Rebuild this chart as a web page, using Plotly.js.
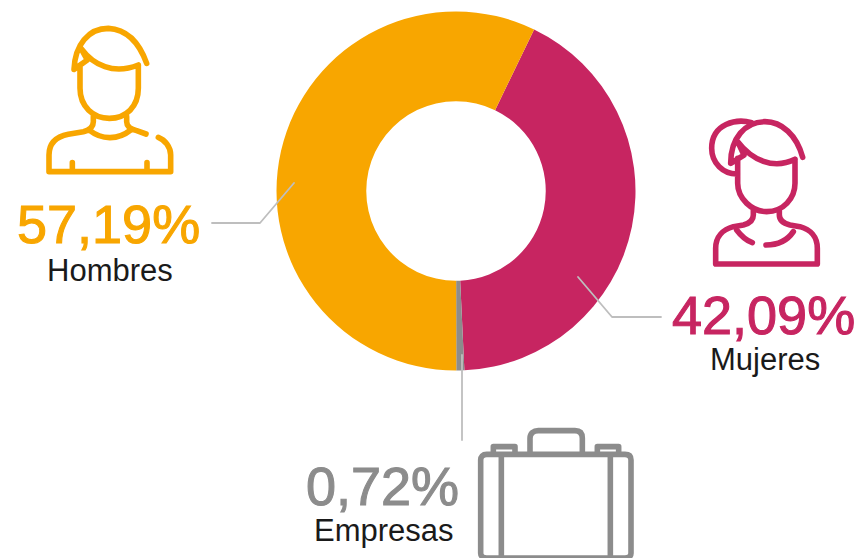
<!DOCTYPE html>
<html><head><meta charset="utf-8">
<script src="https://cdn.plot.ly/plotly-3.0.1.min.js"></script>
<style>html,body{margin:0;padding:0;background:#fff}#c{width:859px;height:558px}
.shapelayer path{stroke-linecap:round;stroke-linejoin:round}
</style>
</head><body><div id="c"></div>
<script>
const categories = ['Mujeres','Empresas','Hombres'];
const shares = [42.09,0.72,57.19];
const shareLabels = ['42,09%','0,72%','57,19%'];
const colours = ['#C72561','#8C8C8C','#F8A600'];

const W=859,H=558;
const cx=456,cy=191,R=179.5;

// Icon outlines, in 3x-crop units with a pixel offset
const manPath = [
 'M440,160 C415,90 375,58 325,55 C265,55 225,105 222,178 L262,150 L243,115',
 'M243,115 C280,165 340,195 415,165',
 'M240,170 L240,235 C240,290 280,325 328,325 C378,325 415,290 415,235 L415,165',
 'M280,320 L280,335 C280,350 270,360 250,365 L205,373 C170,380 147,400 147,435 L147,485 L512,485 L512,435 C512,410 495,390 475,382',
 'M380,320 L380,335 C380,350 395,358 410,362 L438,372',
 'M270,362 C305,390 355,390 392,360',
 'M217,458 L217,485','M441,458 L441,485'
].join(' ');
const womanPath = [
 'M545,68 C500,55 425,70 425,145 C425,190 460,222 500,222',
 'M698,172 C680,105 635,65 585,65 C525,65 482,115 482,190 L522,165 L503,125',
 'M503,125 C545,180 610,210 675,178',
 'M503,175 L503,250 C503,295 545,335 590,335 C640,335 675,295 675,250 L675,178',
 'M550,330 L550,345 C550,360 540,370 520,375 L490,380 C460,388 437,410 437,445 L437,492 L742,492 L742,445 C742,410 720,388 690,380 L660,375 C640,370 628,360 628,345 L628,330',
 'M500,390 C515,410 530,422 547,428','M588,435 C620,435 650,425 670,395'
].join(' ');
const casePath = [
 'M590,343 L1005,343 C1018,343 1023,350 1023,360 L1023,640 C1023,650 1015,654 1005,654 L590,654 C578,654 572,648 572,640 L572,360 C572,350 578,343 590,343',
 'M634,343 L634,654','M961,343 L961,654',
 'M720,343 L720,295 C720,280 730,272 745,272 L855,272 C870,272 877,280 877,295 L877,343',
 'M610,343 L610,320 L675,320 L675,343','M922,343 L922,320 L986,320 L986,343'
].join(' ');

function toPaper(path,ox,oy){
  return path.replace(/(-?[\d.]+),(-?[\d.]+)/g,(m,a,b)=>
    ((ox+a/3)/W).toFixed(5)+','+(1-(oy+b/3)/H).toFixed(5));
}
const icon=(p,ox,oy,col)=>({type:'path',xref:'paper',yref:'paper',path:toPaper(p,ox,oy),
  line:{color:col,width:5.6},layer:'above'});
const leader=(p)=>({type:'path',xref:'paper',yref:'paper',path:toPaper(p,0,0),
  line:{color:'#BEBEBE',width:1.8},layer:'above'});

const shapes=[
 icon(manPath,0,10,colours[2]),
 icon(womanPath,570,100,colours[0]),
 icon(casePath,290,340,colours[1]),
 leader('M636,669 L780,669 L882,549'),
 leader('M1983,951 L1836,951 L1734,831'),
 leader('M1386,1320 L1386,1065')
];

const sans='"Liberation Sans", Arial, sans-serif';
const ann=(t,x,y,col,size)=>({text:t,xref:'paper',yref:'paper',x:x/W,y:1-y/H,xanchor:'center',yanchor:'middle',
  showarrow:false,font:{family:sans,size:size,color:col}});
const annotations=[
 ann(shareLabels[2],108,224,colours[2],54),
 ann(categories[2],110,270,'#1A1A1A',31),
 ann(shareLabels[0],763,315,colours[0],54),
 ann(categories[0],765,359,'#1A1A1A',31),
 ann(shareLabels[1],382,486,colours[1],54),
 ann(categories[1],384,530,'#1A1A1A',31)
];

function embolden(){
  document.querySelectorAll('.annotation').forEach((g,i)=>{
    const t=g.querySelector('text'); if(!t) return;
    if(i%2===0){ t.style.stroke=t.style.fill; t.style.strokeWidth='1.1px'; }
  });
}

Plotly.newPlot('c',[{
  type:'pie',labels:categories,values:shares,sort:false,direction:'clockwise',rotation:25.8,hole:0.5,
  textinfo:'none',hoverinfo:'skip',showlegend:false,
  marker:{colors:colours,line:{width:0}},
  domain:{x:[(cx-R)/W,(cx+R)/W],y:[1-(cy+R)/H,1-(cy-R)/H]}
}],{
  width:W,height:H,margin:{l:0,r:0,t:0,b:0},paper_bgcolor:'#fff',showlegend:false,
  shapes:shapes,annotations:annotations
},{displayModeBar:false,staticPlot:true}).then(embolden);
</script></body></html>
